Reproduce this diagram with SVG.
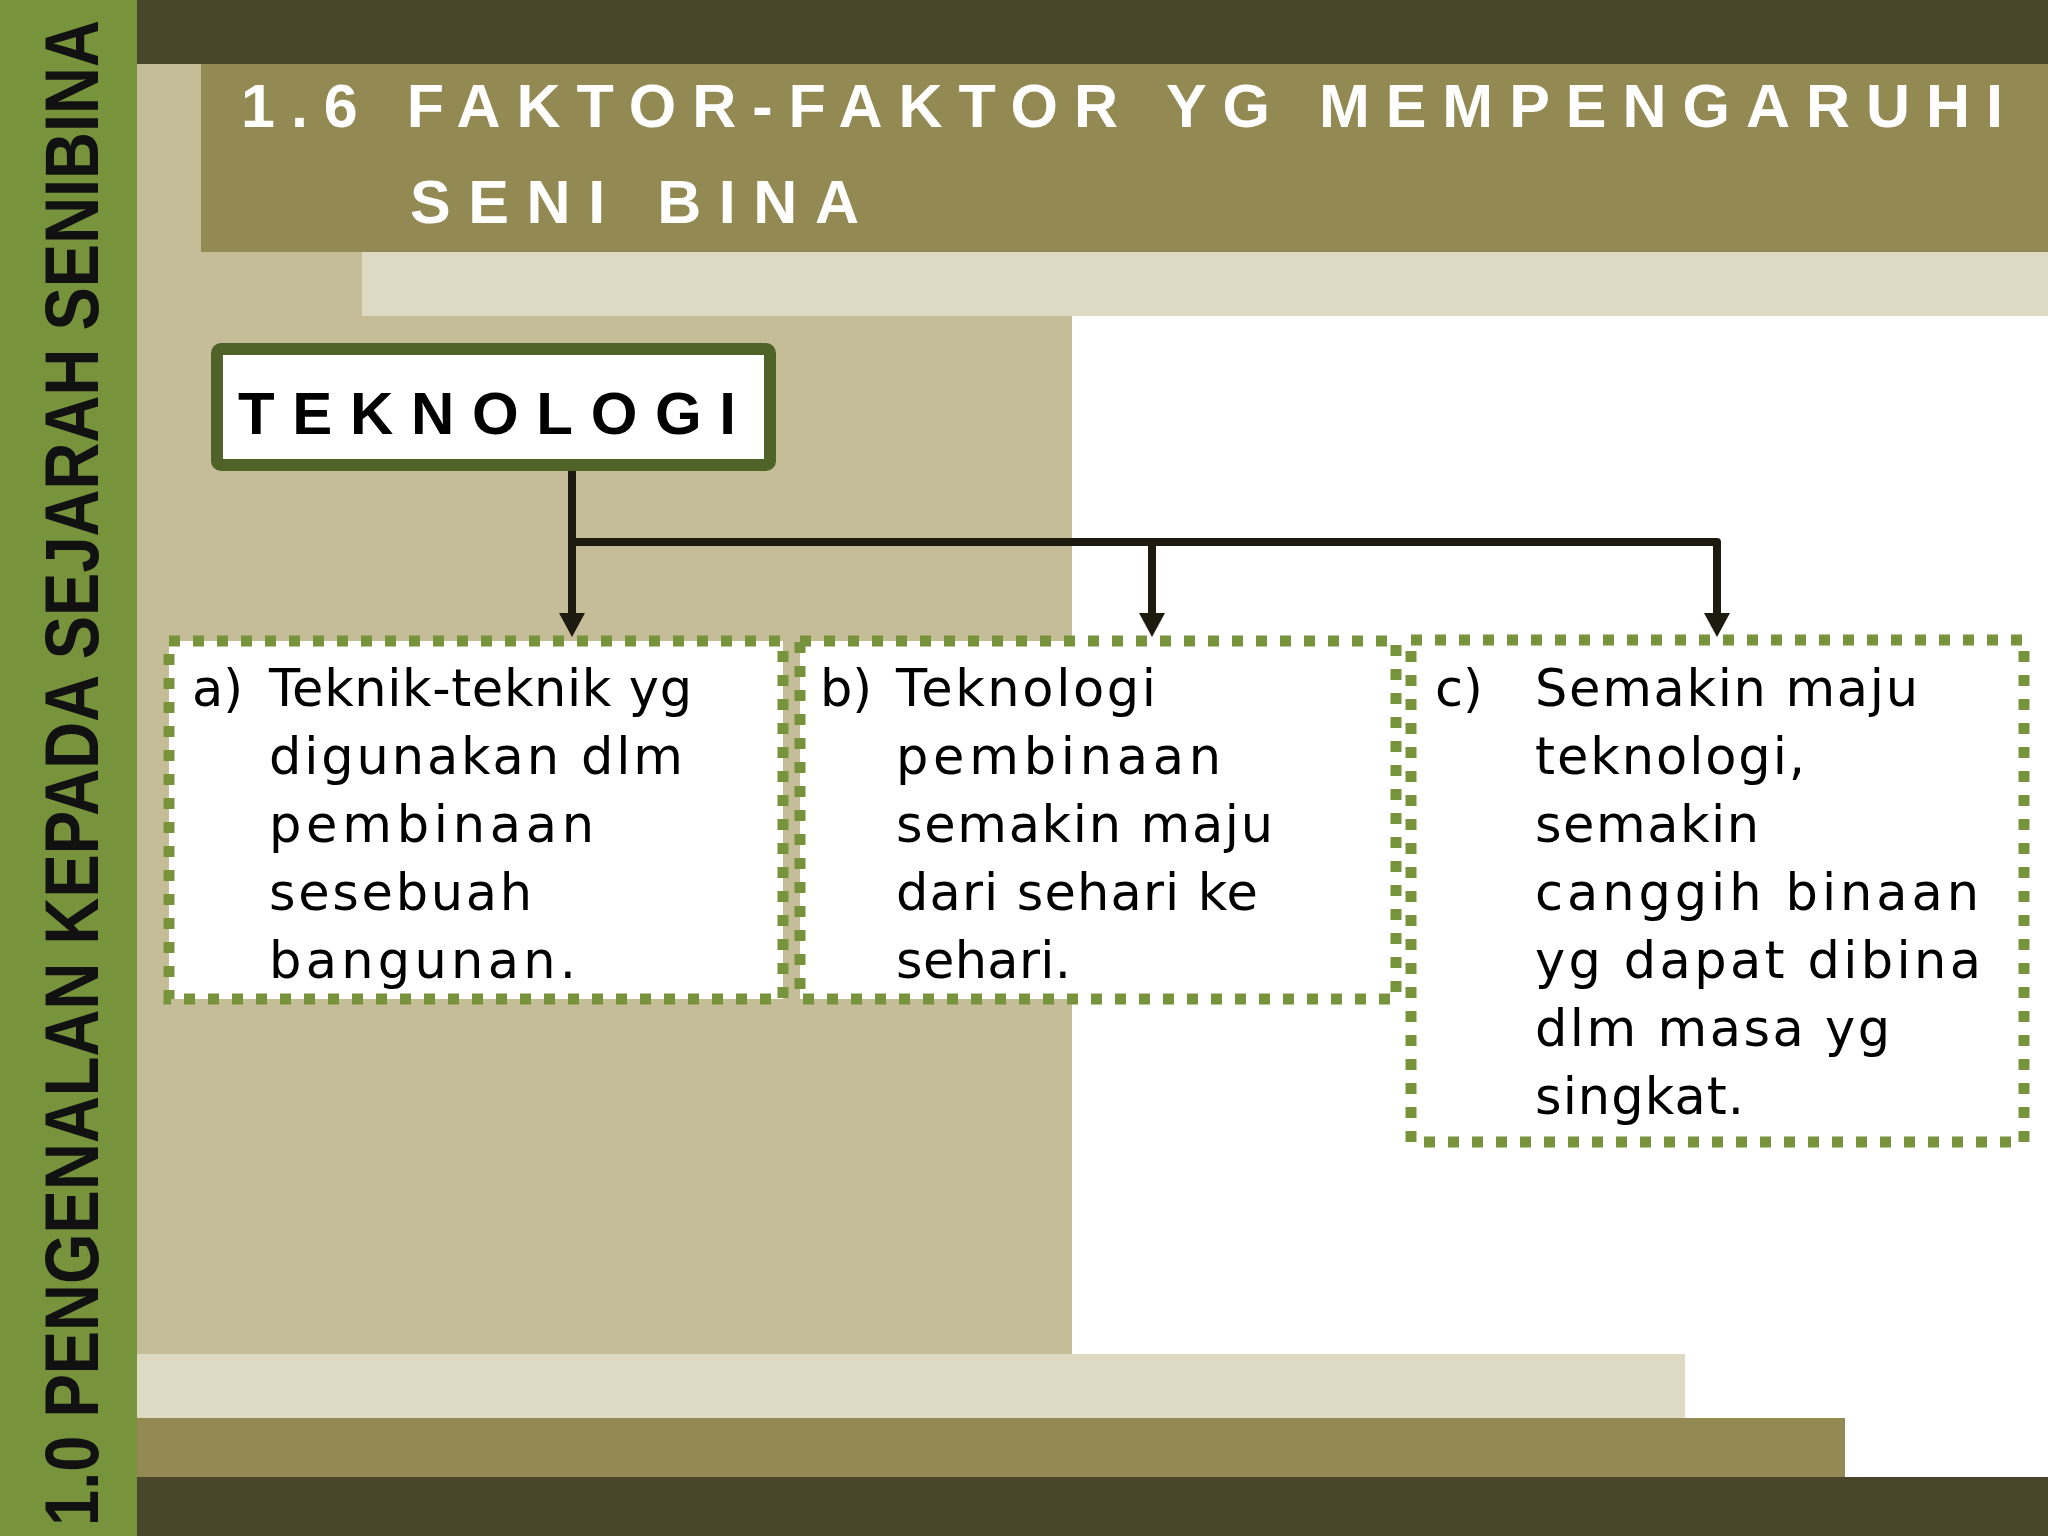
<svg xmlns="http://www.w3.org/2000/svg" width="2048" height="1536" viewBox="0 0 2048 1536">
<style>
.title{font-family:"Liberation Sans",Arial,sans-serif;font-weight:bold;font-size:61px;fill:#ffffff}
.side{font-family:"Liberation Sans",Arial,sans-serif;font-weight:bold;font-size:76px;fill:#111111}
.head{font-family:"Liberation Sans",Arial,sans-serif;font-weight:bold;font-size:60px;fill:#000000}
.body{font-family:"DejaVu Sans","Liberation Sans",sans-serif;font-size:51px;fill:#000000}
.dot{fill:#ffffff;stroke:#77933c;stroke-width:11;stroke-dasharray:11 13}
.conn{fill:none;stroke:#1d1b10;stroke-width:8;stroke-linejoin:round}
</style>
<defs>
<marker id="arr" viewBox="0 0 26 26" refX="14" refY="13" markerWidth="26" markerHeight="26" markerUnits="userSpaceOnUse" orient="auto">
<path d="M0,0 L24,13 L0,26 z" fill="#1d1b10"/>
</marker>
</defs>
<g id="background">
<rect x="0" y="0" width="2048" height="1536" fill="#ffffff"/>
<rect x="137" y="0" width="1911" height="64" fill="#4a462c"/>
<rect x="137" y="64" width="935" height="1290" fill="#c4bd97"/>
<rect x="201" y="64" width="1847" height="188" fill="#938953"/>
<rect x="362" y="252" width="1686" height="64" fill="#ddd9c3"/>
<rect x="137" y="1354" width="1548" height="64" fill="#ddd9c3"/>
<rect x="137" y="1418" width="1708" height="59" fill="#938953"/>
<rect x="137" y="1477" width="1911" height="59" fill="#4a462c"/>
<rect x="0" y="0" width="137" height="1536" fill="#77933c"/>
</g>
<g id="sidebar">
<text class="side" x="98" y="1526" transform="rotate(-90 98 1526)" textLength="1506" lengthAdjust="spacingAndGlyphs">1.0 PENGENALAN KEPADA SEJARAH SENIBINA</text>
</g>
<g id="title">
<text class="title" x="241" y="127" textLength="1762" lengthAdjust="spacing">1.6 FAKTOR-FAKTOR YG MEMPENGARUHI</text>
<text class="title" x="410" y="223" textLength="449" lengthAdjust="spacing">SENI BINA</text>
</g>
<g id="connectors">
<path class="conn" d="M572,459 V627" marker-end="url(#arr)"/>
<path class="conn" d="M572,542 H1717 V627" marker-end="url(#arr)"/>
<path class="conn" d="M1152,542 V627" marker-end="url(#arr)"/>
</g>
<g id="node-teknologi">
<rect x="217" y="349" width="553" height="116" rx="4" fill="#ffffff" stroke="#4f6228" stroke-width="12"/>
<text class="head" x="238" y="434" textLength="498" lengthAdjust="spacing">TEKNOLOGI</text>
</g>
<g id="node-a">
<rect class="dot" x="169" y="641" width="614" height="358"/>
<text class="body" x="192" y="706">a)</text>
<text class="body" x="269" y="706" textLength="423" lengthAdjust="spacing">Teknik-teknik yg</text>
<text class="body" x="269" y="774" textLength="414" lengthAdjust="spacing">digunakan dlm</text>
<text class="body" x="269" y="842" textLength="325" lengthAdjust="spacing">pembinaan</text>
<text class="body" x="269" y="910" textLength="263" lengthAdjust="spacing">sesebuah</text>
<text class="body" x="269" y="978" textLength="307" lengthAdjust="spacing">bangunan.</text>
</g>
<g id="node-b">
<rect class="dot" x="800" y="641" width="596" height="358"/>
<text class="body" x="820" y="706">b)</text>
<text class="body" x="896" y="706" textLength="260" lengthAdjust="spacing">Teknologi</text>
<text class="body" x="896" y="774" textLength="325" lengthAdjust="spacing">pembinaan</text>
<text class="body" x="896" y="842" textLength="377" lengthAdjust="spacing">semakin maju</text>
<text class="body" x="896" y="910" textLength="362" lengthAdjust="spacing">dari sehari ke</text>
<text class="body" x="896" y="978" textLength="175" lengthAdjust="spacing">sehari.</text>
</g>
<g id="node-c">
<rect class="dot" x="1411" y="640" width="613" height="502"/>
<text class="body" x="1435" y="706">c)</text>
<text class="body" x="1535" y="706" textLength="383" lengthAdjust="spacing">Semakin maju</text>
<text class="body" x="1535" y="774" textLength="270" lengthAdjust="spacing">teknologi,</text>
<text class="body" x="1535" y="842" textLength="224" lengthAdjust="spacing">semakin</text>
<text class="body" x="1535" y="910" textLength="444" lengthAdjust="spacing">canggih binaan</text>
<text class="body" x="1535" y="978" textLength="446" lengthAdjust="spacing">yg dapat dibina</text>
<text class="body" x="1535" y="1046" textLength="355" lengthAdjust="spacing">dlm masa yg</text>
<text class="body" x="1535" y="1114" textLength="209" lengthAdjust="spacing">singkat.</text>
</g>
</svg>
